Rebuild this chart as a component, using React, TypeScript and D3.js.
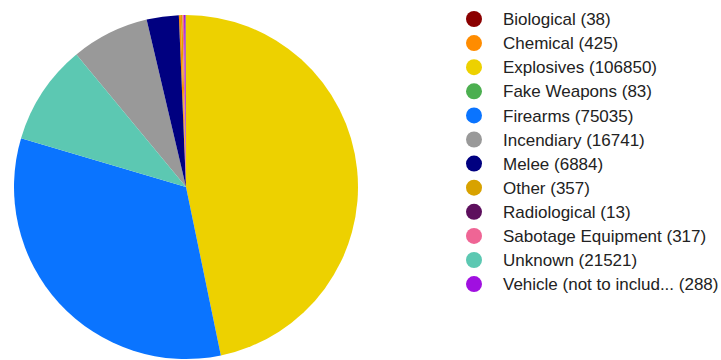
import React from "react";
import * as d3 from "d3";

const categories = [
  "Biological",
  "Chemical",
  "Explosives",
  "Fake Weapons",
  "Firearms",
  "Incendiary",
  "Melee",
  "Other",
  "Radiological",
  "Sabotage Equipment",
  "Unknown",
  "Vehicle (not to includ...",
];
const values = [38, 425, 106850, 83, 75035, 16741, 6884, 357, 13, 317, 21521, 288];
const colors = [
  "#8b0000",
  "#ff8c00",
  "#edd100",
  "#4caf50",
  "#0a74ff",
  "#999999",
  "#000080",
  "#d8a200",
  "#5d0f5d",
  "#ef6595",
  "#5cc8b2",
  "#a010e0",
];

const W = 721;
const H = 360;
const cx = 186;
const cy = 187;
const R = 172;

export default function App() {
  const data = categories.map((c, i) => ({ c, v: values[i], col: colors[i] }));
  const pie = d3
    .pie<{ c: string; v: number; col: string }>()
    .value((d) => d.v)
    .sort((a, b) => b.v - a.v);
  const arcs = pie(data);
  const arc = d3
    .arc<d3.PieArcDatum<{ c: string; v: number; col: string }>>()
    .innerRadius(0)
    .outerRadius(R);
  const ly = d3.scaleLinear().domain([0, 1]).range([19, 43.1]);
  return (
    <svg
      width={W}
      height={H}
      style={{ position: "absolute", left: 0, top: 0 }}
      fontFamily="Arial, 'Liberation Sans', sans-serif"
    >
      <rect width={W} height={H} fill="#fff" />
      <g transform={`translate(${cx},${cy})`}>
        {arcs.map((a, i) => (
          <path key={i} d={arc(a) || ""} fill={a.data.col} />
        ))}
      </g>
      {data.map((d, i) => (
        <g key={i} transform={`translate(0,${ly(i)})`}>
          <circle cx={474} cy={0} r={8} fill={d.col} />
          <text x={503} y={0} dy="0.36em" fontSize={17} fill="#222">
            {`${d.c} (${d.v})`}
          </text>
        </g>
      ))}
    </svg>
  );
}
